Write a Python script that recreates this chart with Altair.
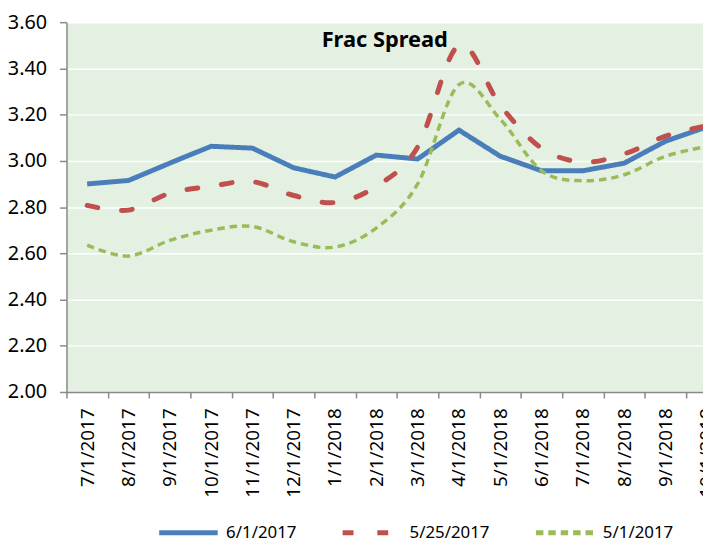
import altair as alt
import pandas as pd

# ---- data ----
dates = ["7/1/2017", "8/1/2017", "9/1/2017", "10/1/2017", "11/1/2017", "12/1/2017",
         "1/1/2018", "2/1/2018", "3/1/2018", "4/1/2018", "5/1/2018", "6/1/2018",
         "7/1/2018", "8/1/2018", "9/1/2018", "10/1/2018"]
series_names = ["6/1/2017", "5/25/2017", "5/1/2017"]
curve_0601 = [2.900, 2.915, 2.990, 3.063, 3.055, 2.970, 2.930, 3.025, 3.008, 3.133,
              3.020, 2.957, 2.957, 2.990, 3.085, 3.147]
curve_0525 = [2.807, 2.787, 2.860, 2.890, 2.910, 2.850, 2.820, 2.890, 3.060, 3.500,
              3.240, 3.055, 2.995, 3.030, 3.107, 3.152]
curve_0501 = [2.635, 2.588, 2.656, 2.700, 2.716, 2.650, 2.627, 2.710, 2.900, 3.330,
              3.180, 2.957, 2.914, 2.940, 3.020, 3.062]
y_ticks = [2.0, 2.2, 2.4, 2.6, 2.8, 3.0, 3.2, 3.4, 3.6]
colors = ["#4A7EBB", "#C0504D", "#9BBB59"]

rows = []
for name, vals in zip(series_names, [curve_0601, curve_0525, curve_0501]):
    for i, (d, v) in enumerate(zip(dates, vals)):
        rows.append({"idx": i, "date": d, "series": name, "value": v})
df = pd.DataFrame(rows)

FONT = "Noto Sans"
band = 41.67
plot_w = 642
plot_h = 373
x_max = -0.5 + plot_w / band

label_array = "[" + ",".join("'" + d + "'" for d in dates) + "]"

x_enc = alt.X(
    "idx:Q",
    scale=alt.Scale(domain=[-0.5, x_max], nice=False, zero=False),
    axis=alt.Axis(
        values=[k - 0.5 for k in range(len(dates))],
        labelExpr=label_array + "[datum.value + 0.5]",
        labelOffset=band / 2,
        labelAngle=270, labelAlign="right", labelBaseline="middle",
        labelFont=FONT, labelFontSize=19, labelColor="black", labelPadding=10,
        labelOverlap=False, labelFlush=False, labelBound=False,
        grid=False, domainColor="#898989", domainWidth=1.5,
        tickColor="#898989", tickWidth=1.5, tickSize=6, title=None,
    ),
)
y_enc = alt.Y(
    "value:Q",
    scale=alt.Scale(domain=[2.0, 3.6], nice=False, zero=False),
    axis=alt.Axis(
        values=y_ticks, format=".2f",
        grid=True, gridColor="white", gridWidth=1.5,
        domainColor="#898989", domainWidth=1.5,
        tickColor="#898989", tickWidth=1.5, tickSize=7,
        labelFont=FONT, labelFontSize=20, labelColor="black", labelPadding=13,
        labelFlush=False, title=None,
    ),
)
legend = alt.Legend(
    title=None, orient="none", legendX=91, legendY=483, direction="horizontal",
    symbolType="stroke", symbolSize=3481, symbolStrokeWidth=5,
    labelFont=FONT, labelFontSize=17, labelColor="black", labelOffset=6,
    columnPadding=36, padding=0,
)
color_enc = alt.Color("series:N", scale=alt.Scale(domain=series_names, range=colors),
                      legend=legend)
dash_enc = alt.StrokeDash("series:N",
                          scale=alt.Scale(domain=series_names,
                                          range=[[1, 0], [11, 24], [7.5, 5]]),
                          legend=legend)

base = alt.Chart(df).encode(x=x_enc, y=y_enc, color=color_enc, strokeDash=dash_enc,
                            order="idx:Q")

blue = base.transform_filter(alt.datum.series == series_names[0]).mark_line(
    strokeWidth=5, clip=True)
red = base.transform_filter(alt.datum.series == series_names[1]).mark_line(
    strokeWidth=5, strokeCap="round", interpolate="cardinal", tension=0, clip=True)
green = base.transform_filter(alt.datum.series == series_names[2]).mark_line(
    strokeWidth=3.5, interpolate="cardinal", tension=0, clip=True)

chart = alt.layer(blue, red, green).properties(
    width=plot_w, height=plot_h,
    title=alt.TitleParams("Frac Spread", font=FONT, fontSize=22, fontWeight="bold",
                          color="black", anchor="middle", dy=44),
    autosize=alt.AutoSizeParams(type="none"),
    padding={"left": 59, "top": 12, "right": 0, "bottom": 147},
).configure_view(fill="#E4F1E2", stroke=None)

chart.save("out.html", embed_options={"renderer": "svg", "actions": False})
